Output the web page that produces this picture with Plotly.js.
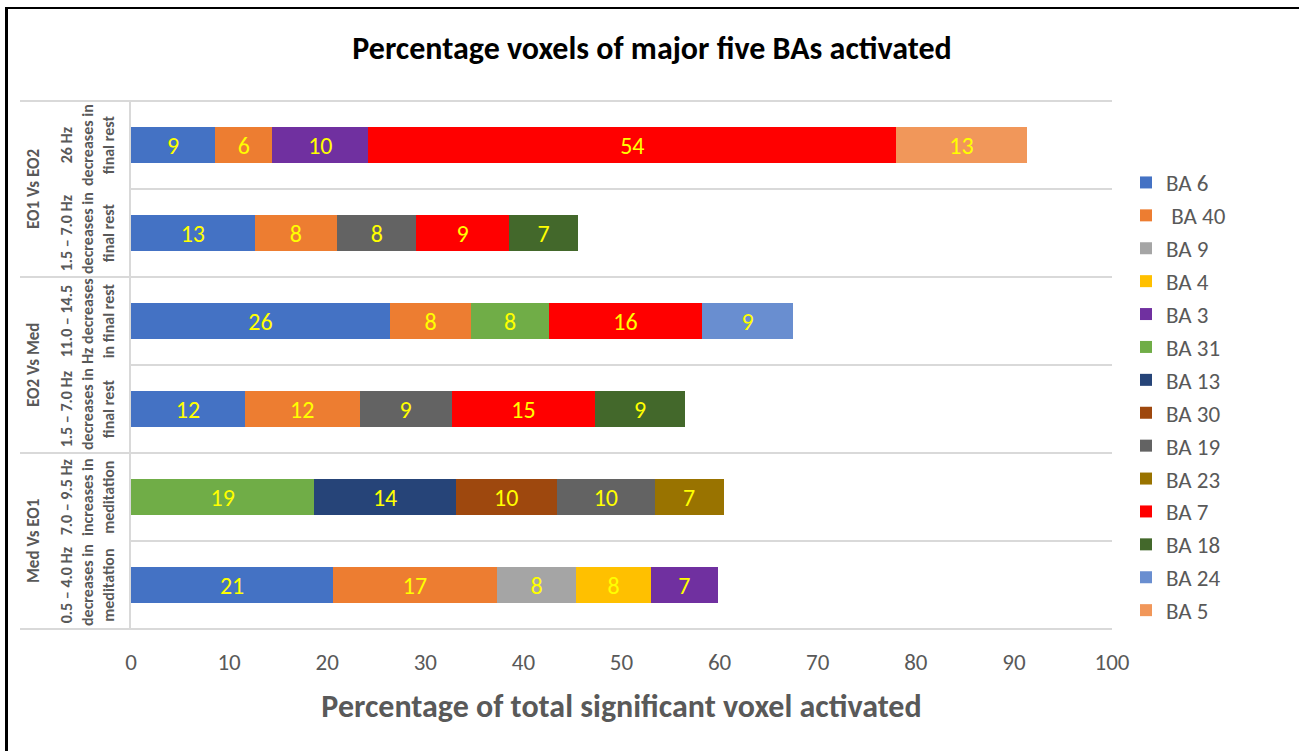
<!DOCTYPE html>
<html>
<head>
<meta charset="utf-8">
<script src="https://cdn.plot.ly/plotly-3.0.1.min.js"></script>
<style>
  html, body { margin: 0; padding: 0; background: #fff; }
  #chart { position: absolute; left: 0; top: 0; width: 1299px; height: 751px; }
  #frame { position: absolute; left: 5px; top: 7px; right: 0; bottom: 0;
           border-top: 2px solid #000; border-left: 3px solid #000; pointer-events: none; }
</style>
</head>
<body>
<div id="chart"></div>
<div id="frame"></div>
<script>
// ---- data ----
const groups = ["EO1 Vs EO2", "EO1 Vs EO2", "EO2 Vs Med", "EO2 Vs Med", "Med Vs EO1", "Med Vs EO1"];
const conditions = [
  "26 Hz<br>decreases in<br>final rest",
  "1.5 – 7.0 Hz<br>decreases in<br>final rest",
  "11.0 – 14.5<br>Hz decreases<br>in final rest",
  "1.5 – 7.0 Hz<br>decreases in<br>final rest",
  "7.0 – 9.5 Hz<br>increases in<br>meditation",
  "0.5 – 4.0 Hz<br>decreases in<br>meditation"
];
const seriesNames = ["BA 6", " BA 40", "BA 9", "BA 4", "BA 3", "BA 31", "BA 13", "BA 30", "BA 19", "BA 23", "BA 7", "BA 18", "BA 24", "BA 5"];
const ba6  = [8.6, 12.6, 26.4, 11.6, null, 20.6];
const ba40 = [5.8, 8.4, 8.3, 11.7, null, 16.7];
const ba9  = [null, null, null, null, null, 8.1];
const ba4  = [null, null, null, null, null, 7.6];
const ba3  = [9.8, null, null, null, null, 6.8];
const ba31 = [null, null, 7.9, null, 18.7, null];
const ba13 = [null, null, null, null, 14.4, null];
const ba30 = [null, null, null, null, 10.3, null];
const ba19 = [null, 8.1, null, 9.4, 10.0, null];
const ba23 = [null, null, null, null, 7.0, null];
const ba7  = [53.8, 9.4, 15.6, 14.6, null, null];
const ba18 = [null, 7.1, null, 9.2, null, null];
const ba24 = [null, null, 9.3, null, null, null];
const ba5  = [13.3, null, null, null, null, null];
const seriesValues = [ba6, ba40, ba9, ba4, ba3, ba31, ba13, ba30, ba19, ba23, ba7, ba18, ba24, ba5];
const seriesColors = ["#4472C4", "#ED7D31", "#A5A5A5", "#FFC000", "#7030A0", "#70AD47", "#264478",
                      "#9E480E", "#636363", "#997300", "#FF0000", "#43682B", "#698ED0", "#F1975A"];
const xTicks = [0, 10, 20, 30, 40, 50, 60, 70, 80, 90, 100];

// ---- layout geometry ----
const W = 1299, H = 751;
const M = { l: 131, r: 187, t: 100, b: 121 };
const plotW = W - M.l - M.r;
const px2paperX = px => (px - M.l) / plotW;

const FONT = "Carlito, Calibri, Lato, 'Open Sans', sans-serif";
const GREY = "#595959";

const keys = groups.map((g, i) => g + " | " + i);

const traces = seriesNames.map((name, s) => ({
  type: "bar",
  orientation: "h",
  name: name,
  y: keys,
  x: seriesValues[s],
  marker: { color: seriesColors[s], line: { width: 0 } },
  texttemplate: "%{x:.0f}",
  textposition: "inside",
  insidetextanchor: "middle",
  constraintext: "none",
  textangle: 0,
  textfont: { color: "#FFFF00", size: 24, family: FONT },
  insidetextfont: { color: "#FFFF00", size: 24, family: FONT },
  hoverinfo: "skip"
}));

const annotations = [];
const shapes = [];
// condition (inner) labels
conditions.forEach((c, i) => {
  annotations.push({
    xref: "paper", yref: "y", x: px2paperX(87), y: i,
    text: "<b>" + c + "</b>", showarrow: false, textangle: -90,
    xanchor: "center", yanchor: "middle",
    font: { family: FONT, size: 16, color: GREY }
  });
});
// group (outer) labels + separators
const uniqueGroups = [...new Set(groups)];
uniqueGroups.forEach(g => {
  const idx = groups.map((v, i) => v === g ? i : -1).filter(i => i >= 0);
  const mid = (idx[0] + idx[idx.length - 1]) / 2;
  annotations.push({
    xref: "paper", yref: "y", x: px2paperX(33), y: mid,
    text: "<b>" + g + "</b>", showarrow: false, textangle: -90,
    xanchor: "center", yanchor: "middle",
    font: { family: FONT, size: 17, color: GREY }
  });
  shapes.push({
    type: "line", xref: "paper", yref: "y",
    x0: px2paperX(20), x1: 1, y0: idx[0] - 0.5, y1: idx[0] - 0.5,
    line: { color: "#D9D9D9", width: 2 }
  });
});
shapes.push({
  type: "line", xref: "paper", yref: "y",
  x0: px2paperX(20), x1: 1, y0: groups.length - 0.5, y1: groups.length - 0.5,
  line: { color: "#D9D9D9", width: 2 }
});

const layout = {
  width: W, height: H,
  margin: M,
  paper_bgcolor: "#fff", plot_bgcolor: "#fff",
  barmode: "stack",
  bargap: 0.6,
  font: { family: FONT, color: GREY },
  title: {
    text: "<b>Percentage voxels of major five BAs activated</b>",
    font: { family: FONT, size: 32, color: "#000" },
    xref: "container", x: 652 / W, xanchor: "center",
    yref: "container", y: 1 - 48 / H, yanchor: "middle"
  },
  xaxis: {
    range: [0, 100],
    tickvals: xTicks,
    ticktext: xTicks.map(String),
    showgrid: false, zeroline: false, showline: false,
    ticks: "",
    ticklabelstandoff: 16,
    tickfont: { family: FONT, size: 23, color: GREY },
    title: {
      text: "<b>Percentage of total significant voxel activated</b>",
      font: { family: FONT, size: 32, color: GREY },
      standoff: 19
    }
  },
  yaxis: {
    type: "category",
    categoryorder: "array",
    categoryarray: keys,
    autorange: "reversed",
    showticklabels: false,
    tickson: "boundaries",
    ticks: "",
    showgrid: true, gridcolor: "#D9D9D9", gridwidth: 1.5,
    showline: true, linecolor: "#D9D9D9", linewidth: 2,
    zeroline: false
  },
  legend: {
    x: px2paperX(1126), xanchor: "left",
    y: 1 - (161 - M.t) / (H - M.t - M.b), yanchor: "top",
    font: { family: FONT, size: 23, color: GREY },
    traceorder: "normal",
    bgcolor: "rgba(0,0,0,0)"
  },
  showlegend: true,
  annotations: annotations,
  shapes: shapes
};

Plotly.newPlot("chart", traces, layout, { displayModeBar: false, staticPlot: true });
</script>
</body>
</html>
